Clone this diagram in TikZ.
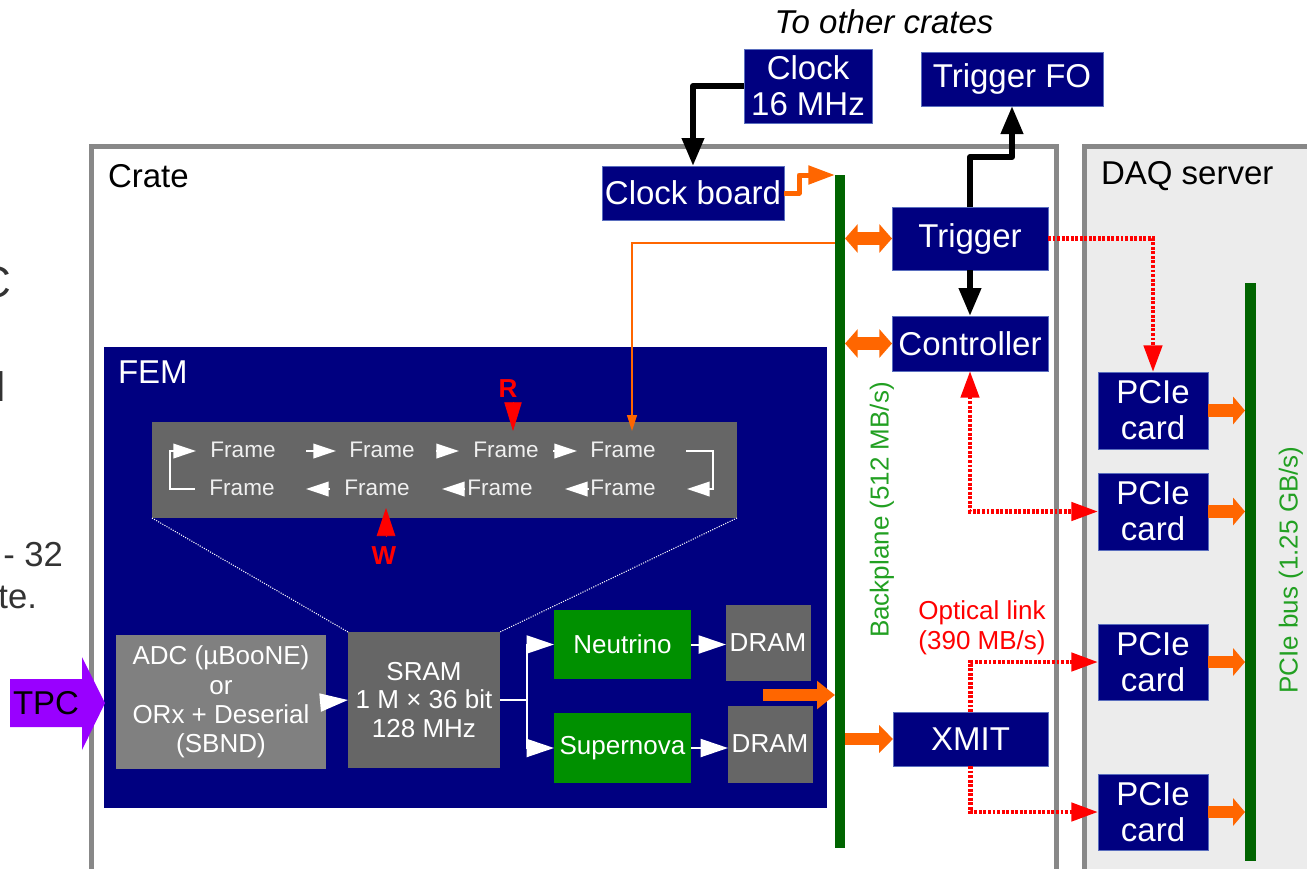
\documentclass[tikz,border=0pt]{standalone}
\usepackage{fontspec}
\setmainfont{Liberation Sans}
\usetikzlibrary{arrows.meta}
\definecolor{navy}{RGB}{0,0,128}
\definecolor{navyedge}{RGB}{90,110,190}
\definecolor{bargreen}{RGB}{0,100,0}
\definecolor{boxgreen}{RGB}{0,144,0}
\definecolor{labgreen}{RGB}{34,160,34}
\definecolor{orng}{RGB}{255,102,0}
\definecolor{gry}{RGB}{102,102,102}
\definecolor{lgry}{RGB}{128,128,128}
\definecolor{crategray}{RGB}{136,136,136}
\definecolor{daqfill}{RGB}{236,236,236}
\definecolor{tpcpurple}{RGB}{153,0,255}
\definecolor{fragtext}{RGB}{51,51,51}
\newcommand\fbig{\fontsize{24.75}{27}\selectfont}
\newcommand\fmid{\fontsize{19.5}{22.1}\selectfont}
\newcommand\fsml{\fontsize{16.9}{20}\selectfont}
\newcommand\bx[7]{\node[#1,minimum width={(#5-#3)*0.75pt},minimum height={(#6-#4)*0.75pt}] (#2) at ({(#3+#5)/2},{(#4+#6)/2}) {#7};}
\tikzset{redhead/.tip={Triangle[length=20pt,width=13.5pt]}}
\begin{document}
\begin{tikzpicture}[x=0.75pt,y=-0.75pt,
  base/.style={inner sep=0pt,outer sep=0pt,align=center},
  navybox/.style={base,fill=navy,draw=navyedge,line width=0.75pt,text=white,font=\fbig},
  greenbox/.style={base,fill=boxgreen,text=white,font=\fmid},
  grybox/.style={base,fill=gry,text=white,font=\fmid},
  lgrybox/.style={base,fill=lgry,text=white,font=\fmid},
  barbox/.style={base,fill=bargreen},
  frm/.style={base,text=white!94!black,font=\fsml},
  frag/.style={base,text=fragtext,anchor=base east},
  blk/.style={line width=4.5pt,line join=round,-{Triangle[length=21pt,width=16pt]}},
  orthick/.style={draw=orng,line width=9.5pt},
  otip/.style={-{Triangle[length=#1,width=20.5pt]}},
  rdot/.style={draw=red,line width=3.4pt,dash pattern=on 2.2pt off 1.2pt},
  wtri/.style={draw=white,line width=1.2pt,-{Triangle[length=17pt,width=11pt]}},
  wcon/.style={draw=white,line width=1.5pt,-{Triangle[length=20.5pt,width=13.5pt]}},
]
\useasboundingbox (0,0) rectangle (1307,868);
% left-edge fragments of slide text (cut off in the reference)
\node[frag,font=\fontsize{33}{36}\selectfont] (fa) at (11,297) {C};
\node[base,text=fragtext,anchor=base west,font=\fontsize{31}{36}\selectfont] (fb1) at (-3,401) {l};
\node[frag,font=\fontsize{26}{30}\selectfont] (fc) at (63,566) {- 32};
\node[frag,font=\fontsize{26}{30}\selectfont] (fd) at (37,608) {te.};
% crate and DAQ server
\draw[crategray,line width=3.75pt] (91,146.5) rectangle (1056,880);
\draw[crategray,line width=3.75pt,fill=daqfill] (1084.5,146.5) rectangle (1330,880);
\node[base,anchor=west,font=\fbig] (crate) at (108,176) {Crate};
\node[base,anchor=west,font=\fbig] (daq) at (1101,176) {DAQ server};
\node[base,font=\fbig\itshape] (toc) at (884,22) {To other crates};
% top boxes
\bx{navybox}{clk}{744}{49}{872}{123}{Clock\\16 MHz}
\bx{navybox}{tfo}{921}{52}{1103}{106}{Trigger FO}
\bx{navybox}{cb}{602}{166}{784}{220}{Clock board}
\bx{navybox}{trig}{892}{207}{1048}{270}{Trigger}
\bx{navybox}{ctrl}{892}{316}{1048}{371}{Controller}
\bx{navybox}{xmit}{893}{712}{1048}{766}{XMIT}
% PCIe cards
\bx{navybox}{p1}{1098}{372}{1208}{449}{PCIe\\card}
\bx{navybox}{p2}{1098}{473}{1208}{550}{PCIe\\card}
\bx{navybox}{p3}{1098}{624}{1208}{700}{PCIe\\card}
\bx{navybox}{p4}{1098}{774}{1208}{850}{PCIe\\card}
% FEM
\bx{base,fill=navy}{fem}{104}{347}{827}{808}{}
\node[base,anchor=west,text=white,font=\fbig] (feml) at (118,372) {FEM};
\bx{grybox}{fbx}{152}{422}{737}{518}{}
\bx{lgrybox}{adc}{116}{635}{326}{769}{ADC (µBooNE)\\or\\ORx + Deserial\\(SBND)}
\bx{grybox,font=\fontsize{19.5}{21.4}\selectfont}{sram}{348}{632}{500}{768}{SRAM\\1 M × 36 bit\\128 MHz}
\bx{greenbox}{neu}{554}{610}{691}{679}{Neutrino}
\bx{greenbox}{sup}{554}{713}{691}{783}{Supernova}
\bx{grybox,draw=black!60,line width=0.5pt}{dr1}{726}{605}{810}{680}{DRAM}
\bx{grybox,draw=black!60,line width=0.5pt}{dr2}{728}{706}{812}{782}{DRAM}
% zoom lines
\draw[white,line width=0.8pt,densely dotted] (fbx.south west) -- (sram.north west);
\draw[white,line width=0.8pt,densely dotted] (fbx.south east) -- (sram.north east);
% frames
\node[frm] (f1) at (243,450) {Frame};
\node[frm] (f2) at (382,450) {Frame};
\node[frm] (f3) at (506,450) {Frame};
\node[frm] (f4) at (623,450) {Frame};
\node[frm] (f5) at (242,488) {Frame};
\node[frm] (f6) at (377,488) {Frame};
\node[frm] (f7) at (500,488) {Frame};
\node[frm] (f8) at (623,488) {Frame};
\draw[wtri] (195,489) -- (170,489) -- (170,451) -- (196,451);
\draw[wtri] (306,451) -- (336,451);
\draw[wtri] (436,451) -- (459,451);
\draw[wtri] (553,451) -- (577,451);
\draw[wtri] (686,451) -- (713,451) -- (713,489) -- (687,489);
\draw[wtri] (330,489) -- (306,489);
\draw[wtri] (465,489) -- (442,489);
\draw[wtri] (589,489) -- (565,489);
% R / W pointers
\node[base,text=red,font=\fmid\bfseries] (R) at (508,389) {R};
\draw[red,line width=0.5pt,-{Triangle[length=21.5pt,width=13pt]}] (513,402) -- (513,431);
\node[base,text=red,font=\fmid\bfseries] (W) at (384,556) {W};
\draw[red,line width=0.5pt,-{Triangle[length=21pt,width=14pt]}] (386,536) -- (386,508);
% TPC input
\fill[tpcpurple] (10,679) -- (82,679) -- (82,657) -- (105,703) -- (82,750) -- (82,727) -- (10,727) -- cycle;
\node[base,font=\fbig] (tpc) at (46,703) {TPC};
% FEM internal connectors
\draw[white,line width=1.5pt,-{Triangle[length=21pt,width=13.5pt]}] (adc.east) -- (sram.west);
\draw[white,line width=1.5pt] (sram.east) -- ++(27,0) coordinate (spl);
\draw[wcon] (spl) |- (neu.west);
\draw[wcon] (spl) |- (sup.west);
\draw[wcon] (neu.east) -- (neu.east -| dr1.west);
\draw[wcon] (sup.east) -- (sup.east -| dr2.west);
% thin orange line to frame buffer
\coordinate (obeg) at (840,243);
\coordinate (oend) at (632,431);
\draw[orng,line width=1.1pt,-{Triangle[length=12pt,width=7.5pt]}] (obeg) -| (oend);
% buses
\bx{barbox}{bp}{835}{175}{845}{848}{}
\bx{barbox}{pb}{1245}{283}{1256}{861}{}
\node[base,text=labgreen,font=\fmid,rotate=90] (bpl) at (882,510) {Backplane (512 MB/s)};
\node[base,text=labgreen,font=\fmid,rotate=90] (pbl) at (1291,570) {PCIe bus (1.25 GB/s)};
% black connectors
\draw[blk] (clk.west) -| (cb.north);
\draw[blk] (trig.north) -- ++(0,-50) -| (tfo.south);
\draw[blk] (trig.south) -- (ctrl.north);
% orange connectors
\draw[orng,line width=3.75pt,line join=round,-{Triangle[length=20pt,width=13.5pt]}] (cb.east) -- ++(15,0) |- (bp.north west);
\draw[orthick,{Triangle[length=9.5pt,width=21pt]}-{Triangle[length=9.5pt,width=21pt]}] (bp.east |- trig.west) -- (trig.west);
\draw[orthick,{Triangle[length=9.5pt,width=21pt]}-{Triangle[length=9.5pt,width=21pt]}] (bp.east |- ctrl.west) -- (ctrl.west);
\coordinate (fout) at (763,695);
\draw[orthick,otip=13.5pt] (fout) -- (fout -| bp.west);
\draw[orthick,otip=10.5pt] (bp.east |- xmit.west) -- (xmit.west);
\foreach \p in {p1,p2,p3,p4}{\draw[orthick,otip=9pt] (\p.east) -- (\p.east -| pb.west);}
% red optical links
\draw[rdot,-redhead] (trig.east) -| (p1.north);
\draw[rdot,redhead-redhead] (ctrl.south) |- (p2.west);
\draw[rdot,-redhead] (xmit.north) |- (p3.west);
\draw[rdot,-redhead] (xmit.south) |- (p4.west);
\node[base,text=red,font=\fontsize{19.5}{22.5}\selectfont] (opt) at (982,628) {Optical link\\(390 MB/s)};
\end{tikzpicture}
\end{document}
